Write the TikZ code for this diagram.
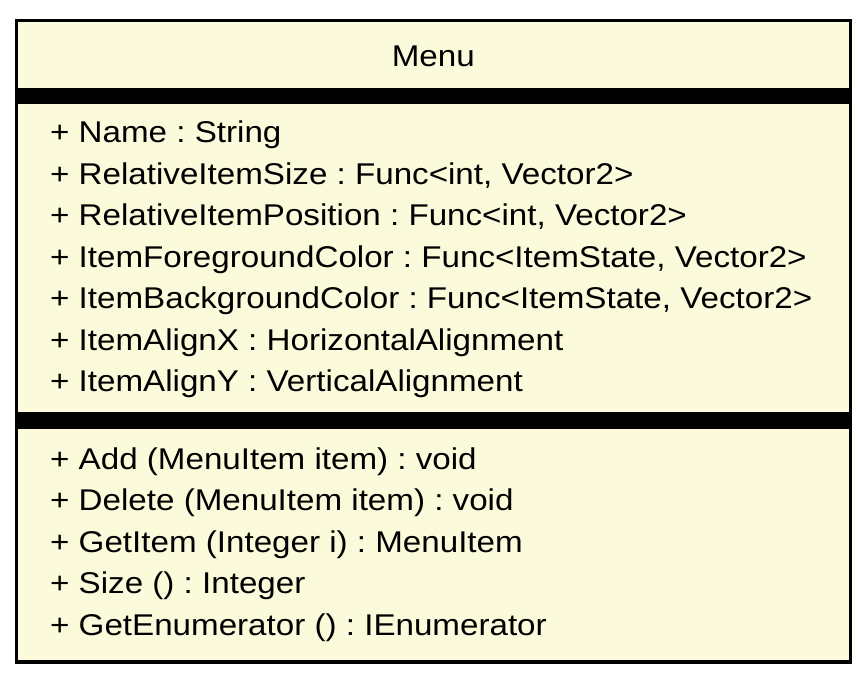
\documentclass[tikz,border=0pt]{standalone}
\usepackage{fontspec}
\setmainfont{Liberation Sans}[FakeStretch=1.105]
\frenchspacing
\definecolor{umlfill}{RGB}{251,250,218}
\tikzset{
  classbox/.style={draw=black, fill=umlfill, line width=3.5pt, inner sep=0pt},
  sepbar/.style={fill=black, draw=none},
  member/.style={anchor=base west, inner sep=0pt, font=\fontsize{30}{36}\selectfont},
  title/.style={anchor=base, inner sep=0pt, font=\fontsize{30}{36}\selectfont},
}
\begin{document}
\begin{tikzpicture}[x=1pt,y=-1pt]
\useasboundingbox (0,0) rectangle (867,683);
\draw[classbox] (16.3,20.7) rectangle (850.3,662);
\fill[sepbar] (16.3,88) rectangle (850.3,103.5);
\fill[sepbar] (16.3,412) rectangle (850.3,428.5);
\node[title] (name) at (433.3,66.7) {Menu};
\node[member] (a1) at (50,142.5) {+ Name : String};
\node[member] (a2) at (50,184) {+ RelativeItemSize : Func<int, Vector2>};
\node[member] (a3) at (50,225.5) {+ RelativeItemPosition : Func<int, Vector2>};
\node[member] (a4) at (50,267) {+ ItemForegroundColor : Func<ItemState, Vector2>};
\node[member] (a5) at (50,308.5) {+ ItemBackgroundColor : Func<ItemState, Vector2>};
\node[member] (a6) at (50,350) {+ ItemAlignX : HorizontalAlignment};
\node[member] (a7) at (50,391.5) {+ ItemAlignY : VerticalAlignment};
\node[member] (m1) at (50,469) {+ Add (MenuItem item) : void};
\node[member] (m2) at (50,510.5) {+ Delete (MenuItem item) : void};
\node[member] (m3) at (50,552) {+ GetItem (Integer i) : MenuItem};
\node[member] (m4) at (50,593.5) {+ Size () : Integer};
\node[member] (m5) at (50,635) {+ GetEnumerator () : IEnumerator};
\end{tikzpicture}
\end{document}
